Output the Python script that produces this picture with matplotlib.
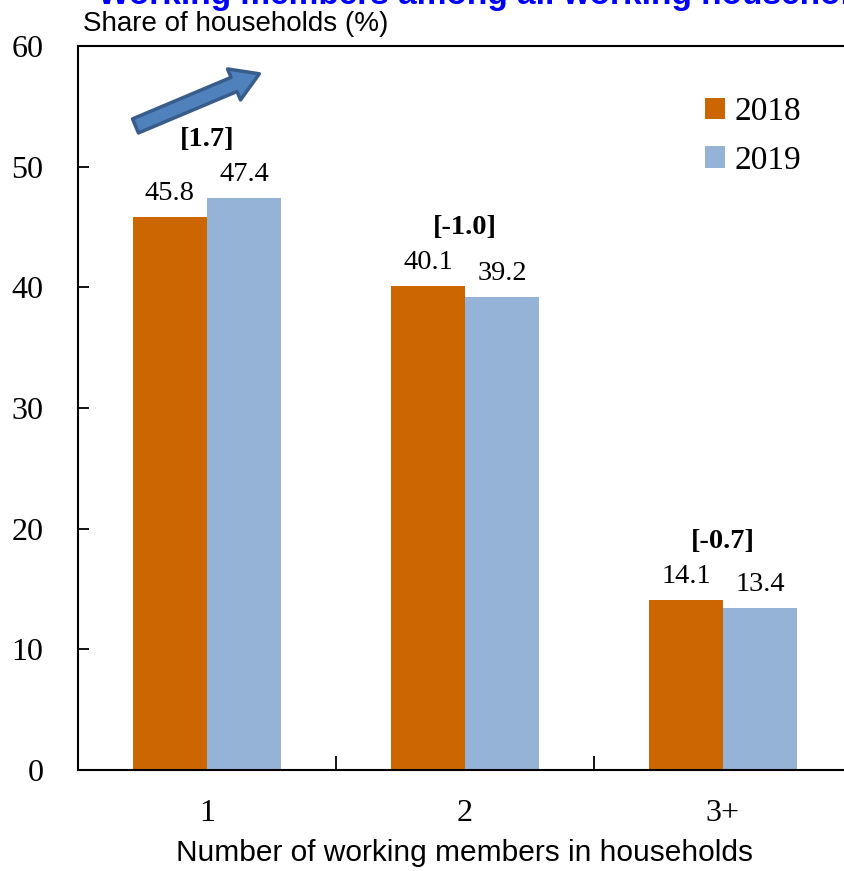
import numpy as np
import matplotlib.pyplot as plt
from matplotlib.patches import FancyArrowPatch, Patch

# Data
categories = ['1', '2', '3+']
share_2018 = [45.8, 40.1, 14.1]
share_2019 = [47.4, 39.2, 13.4]
changes = ['[1.7]', '[-1.0]', '[-0.7]']
years = ['2018', '2019']

c2018 = '#CC6600'
c2019 = '#95B3D7'
serif = ['Liberation Serif', 'DejaVu Serif']
sans = ['Liberation Sans', 'DejaVu Sans']

fig = plt.figure(figsize=(8.44, 8.71), dpi=100)
ax = fig.add_axes([0.0924, 0.116, 0.917, 0.831])

x = np.arange(len(categories))
w = 0.287
b1 = ax.bar(x - w / 2, share_2018, w, color=c2018)
b2 = ax.bar(x + w / 2, share_2019, w, color=c2019)

# value labels
for bars, vals in ((b1, share_2018), (b2, share_2019)):
    for r, v in zip(bars, vals):
        ax.annotate(f'{v:.1f}', (r.get_x() + r.get_width() / 2, v),
                    xytext=(0, 17), textcoords='offset points',
                    ha='center', va='center', fontsize=20.5, family=serif)

# change labels in brackets
for i, txt in enumerate(changes):
    top = max(share_2018[i], share_2019[i])
    ax.annotate(txt, (x[i], top), xytext=(0, 42), textcoords='offset points',
                ha='center', va='center', fontsize=20.5, fontweight='bold',
                family=serif)

# decorative arrow
arr = FancyArrowPatch((-0.287, 53.3), (0.213, 57.8),
                      arrowstyle='simple,head_length=1.8,head_width=2.2,tail_width=1',
                      mutation_scale=11, facecolor='#4F81BD',
                      edgecolor='#385D8A', linewidth=2.5, clip_on=False)
ax.add_patch(arr)

ax.set_xlim(-0.5, 2.5)
ax.set_ylim(0, 60)
ax.set_yticks(range(0, 61, 10))
ax.set_xticks(x)
ax.set_xticklabels(categories)
ax.set_xticks([0.5, 1.5], minor=True)
ax.tick_params(axis='x', which='major', length=0, pad=21)
ax.tick_params(axis='x', which='minor', direction='in', length=10, width=1.3)
ax.tick_params(axis='y', direction='in', length=8, width=1.3, pad=25)
for lab in ax.get_xticklabels() + ax.get_yticklabels():
    lab.set_family(serif)
    lab.set_fontsize(23)

for s in ('left', 'top', 'bottom'):
    ax.spines[s].set_linewidth(1.5)
ax.spines['right'].set_visible(False)

ax.set_xlabel('Number of working members in households', fontsize=21.5,
              family=sans, labelpad=8)

fig.text(83 / 844, 1 - 24 / 871, 'Share of households (%)', fontsize=20,
         family=sans, va='center', ha='left')
fig.text(98 / 844, 1 - 4 / 871, 'Working members among all working households',
         fontsize=24, fontweight='bold', color='#0000FF', family=sans,
         va='baseline', ha='left')

handles = [Patch(facecolor=c2018), Patch(facecolor=c2019)]
leg = ax.legend(handles, years, loc='upper left', bbox_to_anchor=(0.771, 0.972),
                frameon=False, handlelength=0.6, handleheight=0.6,
                handletextpad=0.3, labelspacing=0.55,
                prop={'family': serif, 'size': 24})

fig.savefig('out.png', dpi=100)
